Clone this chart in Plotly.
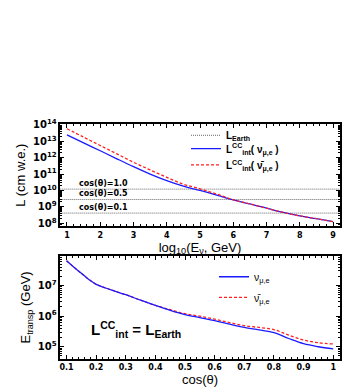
import plotly.graph_objects as go

# ---- top panel data: log10(E/GeV) vs log10(L / cm w.e.)
logE = [1, 1.5, 2, 2.5, 3, 3.5, 4, 4.5, 5, 5.5, 6, 6.5, 7, 7.5, 8, 8.5, 9]
logL_nu = [13.39, 12.9, 12.42, 11.93, 11.45, 11.0, 10.6, 10.26, 10.0, 9.72, 9.42, 9.18, 8.92, 8.66, 8.45, 8.28, 8.1]
logL_nubar = [13.76, 13.25, 12.74, 12.23, 11.72, 11.25, 10.8, 10.38, 10.1, 9.78, 9.43, 9.18, 8.92, 8.66, 8.45, 8.28, 8.1]
earth_labels = ["cos(θ)=1.0", "cos(θ)=0.5", "cos(θ)=0.1"]
earth_logL = [10.08, 9.45, 8.62]

# ---- bottom panel data: cos(theta) vs log10(E_transp / GeV)
cos_t = [0.1, 0.125, 0.15, 0.175, 0.2, 0.25, 0.3, 0.35, 0.4, 0.45, 0.5, 0.55, 0.6, 0.65, 0.7, 0.75, 0.8, 0.85, 0.9, 0.95, 1.0]
logEt_nu = [7.81, 7.6, 7.4, 7.2, 7.04, 6.86, 6.7, 6.52, 6.35, 6.19, 6.05, 5.95, 5.85, 5.74, 5.63, 5.55, 5.46, 5.27, 5.1, 5.0, 4.93]
logEt_nubar = [7.81, 7.6, 7.4, 7.2, 7.04, 6.86, 6.7, 6.52, 6.35, 6.21, 6.08, 6.0, 5.9, 5.79, 5.69, 5.63, 5.56, 5.38, 5.22, 5.13, 5.09]

BLUE = "#1a1aff"
RED = "#ff2020"
TICKFONT = dict(family="DejaVu Sans", size=8, color="black", weight="bold")

fig = go.Figure()

# Earth lines
for i, (lab, v) in enumerate(zip(earth_labels, earth_logL)):
    fig.add_trace(go.Scatter(
        x=[0.8, 9.2], y=[10 ** v, 10 ** v], mode="lines",
        line=dict(color="#666666", width=1, dash="1px,1px"),
        name="L<sub>Earth</sub>", showlegend=(i == 0), legend="legend",
        xaxis="x", yaxis="y"))
    fig.add_annotation(x=1.3, y=v, xref="x", yref="y", text=lab,
                       showarrow=False, xanchor="left", yanchor="bottom",
                       yshift=-1, font=dict(family="DejaVu Sans", size=8, color="black", weight="bold"))

fig.add_trace(go.Scatter(
    x=logE, y=[10 ** v for v in logL_nu], mode="lines",
    line=dict(color=BLUE, width=1.3, shape="spline"),
    name="L<sup>CC</sup><sub>int</sub>( ν<sub>μ,e</sub> )", legend="legend2",
    xaxis="x", yaxis="y"))
fig.add_trace(go.Scatter(
    x=logE, y=[10 ** v for v in logL_nubar], mode="lines",
    line=dict(color=RED, width=1.3, dash="3px,2px", shape="spline"),
    name="L<sup>CC</sup><sub>int</sub>( ν̄<sub>μ,e</sub> )", legend="legend3",
    xaxis="x", yaxis="y"))

fig.add_trace(go.Scatter(
    x=cos_t, y=[10 ** v for v in logEt_nubar], mode="lines",
    line=dict(color=RED, width=1.3, dash="3px,2px", shape="spline"),
    name="ν̄<sub>μ,e</sub>", legend="legend5",
    xaxis="x2", yaxis="y2"))
fig.add_trace(go.Scatter(
    x=cos_t, y=[10 ** v for v in logEt_nu], mode="lines",
    line=dict(color=BLUE, width=1.3, shape="spline"),
    name="ν<sub>μ,e</sub>", legend="legend4",
    xaxis="x2", yaxis="y2"))

fig.add_annotation(x=0.105, y=0.125, xref="paper", yref="paper",
                   text="L<sup>CC</sup><sub>int</sub> = L<sub>Earth</sub>",
                   showarrow=False, xanchor="left", yanchor="middle",
                   font=dict(family="Liberation Sans", size=15, color="black", weight="bold"))

axis_common = dict(showline=True, linecolor="black", linewidth=1.5, mirror="allticks",
                   ticks="inside", ticklen=4, tickcolor="black", showgrid=False,
                   zeroline=False, tickfont=TICKFONT)

TOPLEG = dict(family="Liberation Sans", size=10, color="black", weight="bold")
BOTLEG = dict(family="Liberation Sans", size=10.5, color="black")


def leg(x, y, font):
    return dict(x=x, y=y, xanchor="left", yanchor="middle", bgcolor="rgba(0,0,0,0)",
                font=font, itemwidth=30, borderwidth=0)


fig.update_layout(
    width=360, height=387,
    margin=dict(l=50, r=28, t=116, b=25),
    paper_bgcolor="white", plot_bgcolor="white",
    xaxis=dict(domain=[0, 1], anchor="y", range=[0.79, 9.21], dtick=1, tick0=1,
               minor=dict(dtick=0.2, ticks="inside", ticklen=2, tickcolor="black"),
               title=dict(text="log<sub>10</sub>(E<sub>ν</sub>, GeV)", standoff=0,
                          font=dict(family="Liberation Sans", size=13, color="black")),
               **axis_common),
    yaxis=dict(domain=[0.565, 1], anchor="x", type="log", range=[7.82, 14.05], dtick=1,
               exponentformat="power",
               minor=dict(ticks="inside", ticklen=2, tickcolor="black"),
               title=dict(text="L (cm w.e.)", standoff=4,
                          font=dict(family="Liberation Sans", size=13, color="black")),
               **axis_common),
    xaxis2=dict(domain=[0, 1], anchor="y2", range=[0.078, 1.023], dtick=0.1, tick0=0.1,
                tickformat="~g",
                minor=dict(dtick=0.02, ticks="inside", ticklen=2, tickcolor="black"),
                title=dict(text="cos(θ)", standoff=2,
                           font=dict(family="Liberation Sans", size=13, color="black")),
                **axis_common),
    yaxis2=dict(domain=[0, 0.439], anchor="x2", type="log", range=[4.6, 7.97], dtick=1,
                exponentformat="power",
                minor=dict(ticks="inside", ticklen=2, tickcolor="black"),
                title=dict(text="E<sub>transp</sub> (GeV)", standoff=4,
                           font=dict(family="Liberation Sans", size=13, color="black")),
                **axis_common),
    legend=leg(0.45, 0.952, TOPLEG),
    legend2=leg(0.45, 0.895, TOPLEG),
    legend3=leg(0.45, 0.826, TOPLEG),
    legend4=leg(0.55, 0.35, BOTLEG),
    legend5=leg(0.55, 0.262, BOTLEG),
    showlegend=True,
)

fig.write_html("out.html")
